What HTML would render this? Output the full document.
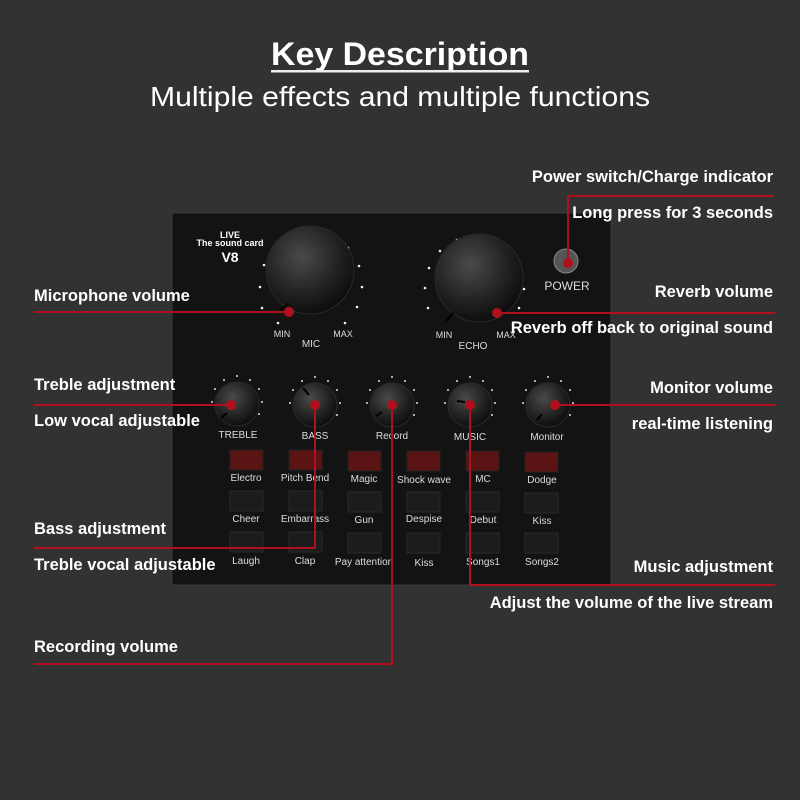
<!DOCTYPE html>
<html><head><meta charset="utf-8"><style>
body{margin:0;background:#333;}
svg{display:block}
</style></head><body>
<svg width="800" height="800" xmlns="http://www.w3.org/2000/svg" font-family="Liberation Sans, sans-serif">
<defs>
<radialGradient id="k" cx="40%" cy="35%" r="70%"><stop offset="0" stop-color="#4a4a4a"/><stop offset="0.6" stop-color="#222"/><stop offset="1" stop-color="#0a0a0a"/></radialGradient>
</defs>
<rect width="800" height="800" fill="#323232"/>
<text x="271" y="65" font-size="32" font-weight="bold" fill="#fff" textLength="258" lengthAdjust="spacingAndGlyphs">Key Description</text>
<rect x="271" y="70" width="258" height="2.5" fill="#eee"/>
<text x="150" y="106" font-size="28" fill="#fff" textLength="500" lengthAdjust="spacingAndGlyphs">Multiple effects and multiple functions</text>

<!-- device -->
<rect x="172" y="213" width="439" height="372" fill="#131313" stroke="#3a3a3a" stroke-width="1"/>
<g fill="#fff" font-weight="bold" text-anchor="middle">
<text x="230" y="238" font-size="9">LIVE</text>
<text x="230" y="246" font-size="9">The sound card</text>
<text x="230" y="262" font-size="14">V8</text>
</g>
<!-- dial dots -->
<g fill="#eee">
<circle cx="262" cy="308" r="1.3"/><circle cx="260" cy="287" r="1.3"/><circle cx="264" cy="265" r="1.3"/><circle cx="275" cy="248" r="1.3"/><circle cx="292" cy="236" r="1.3"/><circle cx="311" cy="232" r="1.3"/><circle cx="330" cy="236" r="1.3"/><circle cx="348" cy="248" r="1.3"/><circle cx="359" cy="266" r="1.3"/><circle cx="362" cy="287" r="1.3"/><circle cx="357" cy="307" r="1.3"/><circle cx="278" cy="323" r="1.3"/><circle cx="345" cy="323" r="1.3"/>
<circle cx="428" cy="308" r="1.3"/><circle cx="425" cy="288" r="1.3"/><circle cx="429" cy="268" r="1.3"/><circle cx="440" cy="251" r="1.3"/><circle cx="457" cy="240" r="1.3"/><circle cx="477" cy="236" r="1.3"/><circle cx="496" cy="240" r="1.3"/><circle cx="512" cy="251" r="1.3"/><circle cx="521" cy="269" r="1.3"/><circle cx="524" cy="289" r="1.3"/><circle cx="519" cy="308" r="1.3"/>
</g>
<circle cx="310" cy="270" r="44" fill="url(#k)" stroke="#2a2a2a"/>
<circle cx="479" cy="278" r="44" fill="url(#k)" stroke="#2a2a2a"/>
<g stroke="#000" stroke-width="2">
<line x1="280" y1="310" x2="288" y2="304"/><line x1="446" y1="321" x2="453" y2="313"/>
</g>
<g fill="#ddd" font-size="9" text-anchor="middle">
<text x="282" y="337">MIN</text><text x="343" y="337">MAX</text><text x="311" y="347" font-size="10">MIC</text>
<text x="444" y="338">MIN</text><text x="506" y="338">MAX</text><text x="473" y="349" font-size="10">ECHO</text>
<text x="567" y="290" font-size="12">POWER</text>
</g>
<circle cx="566" cy="261" r="12" fill="#555" stroke="#888"/>
<!-- small dial dots -->
<g fill="#ddd">
<circle cx="212" cy="402" r="1"/><circle cx="215" cy="389" r="1"/><circle cx="224" cy="380" r="1"/><circle cx="237" cy="376" r="1"/><circle cx="250" cy="380" r="1"/><circle cx="259" cy="389" r="1"/><circle cx="262" cy="402" r="1"/><circle cx="259" cy="414" r="1"/>
<circle cx="290" cy="403" r="1"/><circle cx="293" cy="390" r="1"/><circle cx="302" cy="381" r="1"/><circle cx="315" cy="377" r="1"/><circle cx="328" cy="381" r="1"/><circle cx="337" cy="390" r="1"/><circle cx="340" cy="403" r="1"/><circle cx="337" cy="415" r="1"/>
<circle cx="367" cy="403" r="1"/><circle cx="370" cy="390" r="1"/><circle cx="379" cy="381" r="1"/><circle cx="392" cy="377" r="1"/><circle cx="405" cy="381" r="1"/><circle cx="414" cy="390" r="1"/><circle cx="417" cy="403" r="1"/><circle cx="414" cy="415" r="1"/>
<circle cx="445" cy="403" r="1"/><circle cx="448" cy="390" r="1"/><circle cx="457" cy="381" r="1"/><circle cx="470" cy="377" r="1"/><circle cx="483" cy="381" r="1"/><circle cx="492" cy="390" r="1"/><circle cx="495" cy="403" r="1"/><circle cx="492" cy="415" r="1"/>
<circle cx="523" cy="403" r="1"/><circle cx="526" cy="390" r="1"/><circle cx="535" cy="381" r="1"/><circle cx="548" cy="377" r="1"/><circle cx="561" cy="381" r="1"/><circle cx="570" cy="390" r="1"/><circle cx="573" cy="403" r="1"/><circle cx="570" cy="415" r="1"/>
</g>
<g fill="url(#k)" stroke="#2a2a2a">
<circle cx="237" cy="404" r="22"/><circle cx="315" cy="405" r="22"/><circle cx="392" cy="405" r="22"/><circle cx="470" cy="405" r="22"/><circle cx="548" cy="405" r="22"/>
</g>
<g stroke="#000" stroke-width="2">
<line x1="221" y1="418" x2="227" y2="413"/><line x1="303" y1="388" x2="309" y2="395"/><line x1="376" y1="416" x2="382" y2="412"/><line x1="457" y1="401" x2="465" y2="402"/><line x1="537" y1="420" x2="542" y2="414"/>
</g>
<g fill="#ddd" font-size="10" text-anchor="middle">
<text x="238" y="438">TREBLE</text><text x="315" y="439">BASS</text><text x="392" y="439">Record</text><text x="470" y="440">MUSIC</text><text x="547" y="440">Monitor</text>
</g>
<g fill="#5a1414" stroke="#222">
<rect x="230" y="450" width="33" height="20"/><rect x="289" y="450" width="33" height="20"/><rect x="348" y="451" width="33" height="20"/><rect x="407" y="451" width="33" height="20"/><rect x="466" y="451" width="33" height="20"/><rect x="525" y="452" width="33" height="20"/>
</g>
<g fill="#1c1c1c" stroke="#2a2a2a">
<rect x="230" y="491" width="33" height="20"/><rect x="289" y="491" width="33" height="20"/><rect x="348" y="492" width="33" height="20"/><rect x="407" y="492" width="33" height="20"/><rect x="466" y="492" width="33" height="20"/><rect x="525" y="493" width="33" height="20"/>
<rect x="230" y="532" width="33" height="20"/><rect x="289" y="532" width="33" height="20"/><rect x="348" y="533" width="33" height="20"/><rect x="407" y="533" width="33" height="20"/><rect x="466" y="533" width="33" height="20"/><rect x="525" y="533" width="33" height="20"/>
</g>
<g fill="#ddd" font-size="10" text-anchor="middle">
<text x="246" y="481">Electro</text><text x="305" y="481">Pitch Bend</text><text x="364" y="482">Magic</text><text x="424" y="483">Shock wave</text><text x="483" y="482">MC</text><text x="542" y="483">Dodge</text>
<text x="246" y="522">Cheer</text><text x="305" y="522">Embarrass</text><text x="364" y="523">Gun</text><text x="424" y="522">Despise</text><text x="483" y="523">Debut</text><text x="542" y="524">Kiss</text>
<text x="246" y="564">Laugh</text><text x="305" y="564">Clap</text><text x="364" y="565">Pay attention</text><text x="424" y="566">Kiss</text><text x="483" y="565">Songs1</text><text x="542" y="565">Songs2</text>
</g>

<!-- connectors -->
<g stroke="#b0101e" stroke-width="2" fill="none">
<polyline points="34,312 289,312"/>
<polyline points="34,405 231,405"/>
<polyline points="34,548 315,548 315,405"/>
<polyline points="34,664 392,664 392,405"/>
<polyline points="775,585 470,585 470,405"/>
<polyline points="775,405 555,405"/>
<polyline points="775,313 497,313"/>
<polyline points="774,196 568,196 568,263"/>
</g>
<g fill="#b0101e">
<circle cx="289" cy="312" r="5"/><circle cx="231" cy="405" r="5"/><circle cx="315" cy="405" r="5"/><circle cx="392" cy="405" r="5"/><circle cx="470" cy="405" r="5"/><circle cx="555" cy="405" r="5"/><circle cx="497" cy="313" r="5"/><circle cx="568" cy="263" r="5"/>
</g>

<!-- labels -->
<g fill="#fff" font-size="16.5" font-weight="bold">
<text x="34" y="301">Microphone volume</text>
<text x="34" y="390">Treble adjustment</text>
<text x="34" y="426">Low vocal adjustable</text>
<text x="34" y="534">Bass adjustment</text>
<text x="34" y="570">Treble vocal adjustable</text>
<text x="34" y="652">Recording volume</text>
</g>
<g fill="#fff" font-size="16.5" font-weight="bold" text-anchor="end">
<text x="773" y="182">Power switch/Charge indicator</text>
<text x="773" y="218">Long press for 3 seconds</text>
<text x="773" y="297">Reverb volume</text>
<text x="773" y="333">Reverb off back to original sound</text>
<text x="773" y="393">Monitor volume</text>
<text x="773" y="429">real-time listening</text>
<text x="773" y="572">Music  adjustment</text>
<text x="773" y="608">Adjust the volume of the live stream</text>
</g>
</svg>
</body></html>
